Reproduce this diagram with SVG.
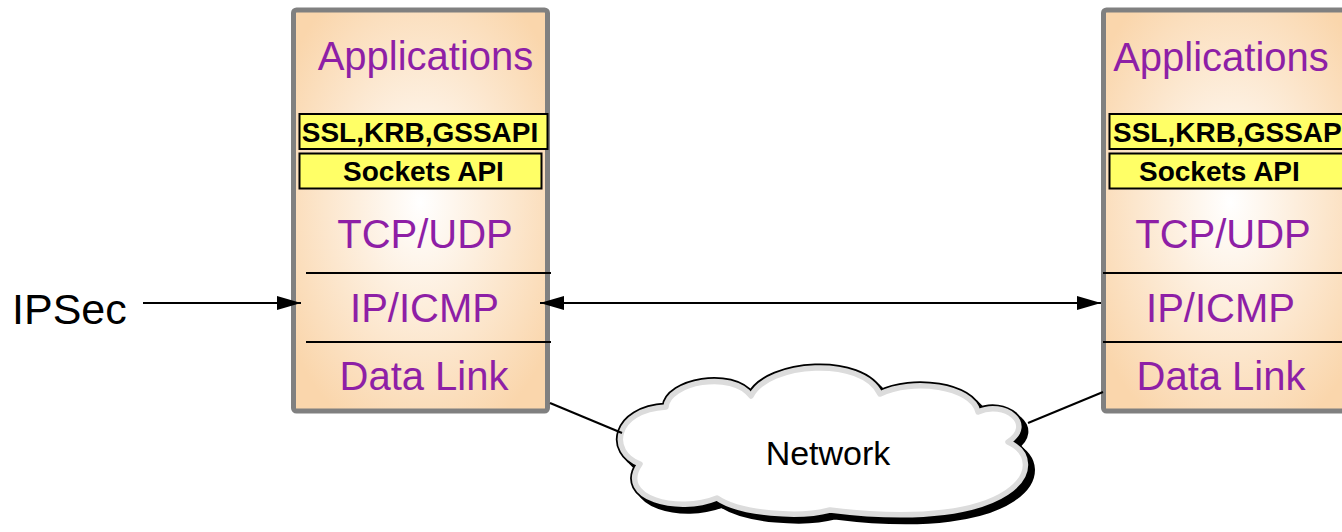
<svg xmlns="http://www.w3.org/2000/svg" width="1342" height="532" viewBox="0 0 1342 532">
<style>
.lay{font-family:"Liberation Sans",Arial,sans-serif;font-size:40px;fill:#8E1FA6;text-anchor:middle}
.ybox{fill:#FFFF66;stroke:#000;stroke-width:2}
.ytxt{font-family:"Liberation Sans",Arial,sans-serif;font-size:28px;font-weight:bold;fill:#000}
.frame{stroke:#808080;stroke-width:5}
.sep{stroke:#000;stroke-width:2}
.conn{stroke:#000;stroke-width:2;fill:none}
.lbl{font-family:"Liberation Sans",Arial,sans-serif;fill:#000}
</style>
<defs>
<radialGradient id="peach" cx="0.5" cy="0.48" r="0.62">
<stop offset="0" stop-color="#FFFFFF"/>
<stop offset="1" stop-color="#FAD6AC"/>
</radialGradient>
<marker id="ah" viewBox="0 0 24 14" refX="24" refY="7" markerWidth="24" markerHeight="14" markerUnits="userSpaceOnUse" orient="auto-start-reverse">
<path d="M0,0 L24,7 L0,14 Z" fill="#000"/>
</marker>
<path id="cloud" d="M666,407 C668,382 732,370 751,396 C768,362 862,356 880,394 C912,378 972,386 978,412 C1004,400 1036,424 1008,442 C1052,462 1020,534 830,510 C800,518 740,514 717,498 C678,514 616,498 640,464 C608,452 614,410 666,407 Z"/>
</defs>
<rect width="1342" height="532" fill="#fff"/>

<g id="stack-left">
<rect class="frame" x="293.5" y="10" width="254" height="401" rx="3" fill="url(#peach)"/>
<text class="lay" x="425.5" y="70">Applications</text>
<rect class="ybox" x="299.5" y="114" width="248" height="35"/>
<text class="ytxt" x="420" y="142" text-anchor="middle">SSL,KRB,GSSAPI</text>
<rect class="ybox" x="299.5" y="153.5" width="242" height="35"/>
<text class="ytxt" x="423.5" y="181" text-anchor="middle">Sockets API</text>
<text class="lay" x="425" y="248">TCP/UDP</text>
<line class="sep" x1="306" y1="273" x2="551" y2="273"/>
<text class="lay" x="424.5" y="322">IP/ICMP</text>
<line class="sep" x1="306" y1="342" x2="551" y2="342"/>
<text class="lay" x="424" y="390">Data Link</text>
</g>

<g id="stack-right">
<rect class="frame" x="1103.5" y="10" width="254" height="401" rx="3" fill="url(#peach)"/>
<text class="lay" x="1221" y="71">Applications</text>
<rect class="ybox" x="1109.5" y="114" width="248" height="35"/>
<text class="ytxt" x="1113" y="142">SSL,KRB,GSSAPI</text>
<rect class="ybox" x="1109.5" y="153.5" width="242" height="35"/>
<text class="ytxt" x="1139" y="181">Sockets API</text>
<text class="lay" x="1223" y="248">TCP/UDP</text>
<line class="sep" x1="1103" y1="273" x2="1342" y2="273"/>
<text class="lay" x="1220.5" y="322">IP/ICMP</text>
<line class="sep" x1="1103" y1="342" x2="1342" y2="342"/>
<text class="lay" x="1221" y="390">Data Link</text>
</g>

<g id="ipsec">
<text class="lbl" x="12" y="324" font-size="43">IPSec</text>
</g>

<g id="network">
<use href="#cloud" transform="translate(5,5)" fill="#000" stroke="#000" stroke-width="9"/>
<use href="#cloud" fill="#fff" stroke="#000" stroke-width="9" stroke-linejoin="round"/>
<use href="#cloud" fill="#fff" stroke="#DCDCDC" stroke-width="5.5" stroke-linejoin="round"/>
<text class="lbl" x="828" y="465" font-size="34" text-anchor="middle">Network</text>
</g>

<g id="connectors">
<line class="conn" x1="143" y1="303" x2="301" y2="303" marker-end="url(#ah)"/>
<line class="conn" x1="540" y1="303" x2="1101" y2="303" marker-start="url(#ah)" marker-end="url(#ah)"/>
<line class="conn" x1="550" y1="403" x2="622" y2="433"/>
<line class="conn" x1="1028" y1="423" x2="1103" y2="392"/>
</g>
</svg>
